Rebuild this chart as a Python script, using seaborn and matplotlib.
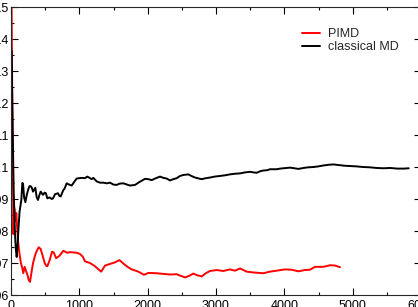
import numpy as np
import pandas as pd
import matplotlib
matplotlib.use("Agg")
import matplotlib.pyplot as plt
from matplotlib.ticker import MultipleLocator, FuncFormatter
import seaborn as sns

# running averages
pimd_x = [0, 8, 16, 24, 30, 36, 44, 54, 66, 78, 90, 102, 115, 127, 145, 161, 180, 200,
          225, 245, 259, 278, 290, 305, 322, 350, 371, 405, 434, 460, 493, 512, 532, 566,
          600, 625, 660, 707, 766, 825, 863, 961, 1010, 1050, 1083, 1156, 1229, 1280, 1320,
          1376, 1449, 1522, 1585, 1620, 1668, 1720, 1766, 1863, 1946, 2010, 2132, 2229,
          2327, 2425, 2470, 2546, 2610, 2668, 2720, 2791, 2850, 2912, 3010, 3107, 3205,
          3278, 3351, 3449, 3571, 3693, 3790, 3888, 4010, 4107, 4205, 4300, 4376, 4449,
          4571, 4669, 4742, 4815]
pimd_y = [0.170, 0.152, 0.128, 0.110, 0.092, 0.079, 0.0876, 0.0866, 0.083, 0.0856, 0.081,
          0.0772, 0.0745, 0.0725, 0.0700, 0.0688, 0.0668, 0.0688, 0.0672, 0.0660, 0.0647,
          0.0641, 0.0657, 0.0678, 0.0699, 0.0722, 0.0735, 0.0749, 0.0744, 0.0725, 0.0700,
          0.0692, 0.0690, 0.0709, 0.0735, 0.0733, 0.0715, 0.0722, 0.0738, 0.0732, 0.0734,
          0.0732, 0.0728, 0.0720, 0.0705, 0.0700, 0.0690, 0.0680, 0.0673, 0.0692, 0.0697,
          0.0702, 0.0709, 0.0703, 0.0694, 0.0686, 0.0680, 0.0673, 0.0663, 0.0669, 0.0668,
          0.0666, 0.0664, 0.0665, 0.0661, 0.0655, 0.0660, 0.0667, 0.0662, 0.0658, 0.0668,
          0.0675, 0.0678, 0.0675, 0.0680, 0.0676, 0.0683, 0.0673, 0.0670, 0.0668, 0.0673,
          0.0676, 0.0680, 0.0679, 0.0674, 0.0678, 0.0679, 0.0688, 0.0688, 0.0693, 0.0692,
          0.0687]

md_x = [0, 5, 12, 25, 40, 58, 70, 83, 95, 107, 125, 151, 166, 176, 192, 210, 230, 249, 270,
        288, 305, 322, 356, 376, 395, 415, 434, 468, 493, 510, 532, 566, 595, 615, 644, 688,
        707, 727, 766, 785, 815, 850, 888, 930, 961, 1034, 1080, 1117, 1150, 1180, 1205,
        1254, 1302, 1351, 1400, 1449, 1500, 1546, 1590, 1644, 1700, 1741, 1815, 1879, 1961,
        2010, 2059, 2120, 2181, 2230, 2278, 2327, 2375, 2425, 2473, 2522, 2595, 2640, 2693,
        2750, 2791, 2850, 2912, 2980, 3059, 3130, 3205, 3280, 3351, 3420, 3498, 3550, 3596,
        3650, 3693, 3750, 3790, 3888, 3940, 3985, 4083, 4150, 4205, 4280, 4350, 4430, 4500,
        4580, 4650, 4720, 4800, 4880, 4960, 5050, 5150, 5250, 5350, 5450, 5550, 5650, 5750,
        5820]
md_y = [0.125, 0.1365, 0.130, 0.1106, 0.092, 0.0794, 0.0745, 0.0719, 0.075, 0.080, 0.086,
        0.0897, 0.0950, 0.0948, 0.0905, 0.0890, 0.0912, 0.0928, 0.0940, 0.0940, 0.0935,
        0.0923, 0.0935, 0.0905, 0.0897, 0.0912, 0.0923, 0.0913, 0.0920, 0.0918, 0.0902,
        0.0905, 0.0900, 0.0902, 0.0915, 0.0918, 0.0910, 0.0908, 0.0928, 0.0933, 0.0949,
        0.0945, 0.0942, 0.0955, 0.0964, 0.0966, 0.0965, 0.0970, 0.0966, 0.0962, 0.0966,
        0.0955, 0.0951, 0.0951, 0.0949, 0.0951, 0.0945, 0.0944, 0.0948, 0.0949, 0.0945,
        0.0942, 0.0944, 0.0953, 0.0963, 0.0962, 0.0959, 0.0965, 0.0970, 0.0966, 0.0964,
        0.0958, 0.0962, 0.0965, 0.0972, 0.0975, 0.0977, 0.0972, 0.0967, 0.0964, 0.0962,
        0.0965, 0.0967, 0.0970, 0.0972, 0.0974, 0.0977, 0.0979, 0.0980, 0.0983, 0.0985,
        0.0983, 0.0982, 0.0987, 0.0989, 0.0990, 0.0993, 0.0993, 0.0995, 0.0996, 0.0998,
        0.0996, 0.0994, 0.0997, 0.0999, 0.1000, 0.1002, 0.1005, 0.1007, 0.1008, 0.1006,
        0.1004, 0.1003, 0.1002, 0.1000, 0.0999, 0.0997, 0.0996, 0.0997, 0.0995, 0.0995,
        0.0996]

df = pd.concat([
    pd.DataFrame({"step": pimd_x, "value": pimd_y, "run": "PIMD"}),
    pd.DataFrame({"step": md_x, "value": md_y, "run": "classical MD"}),
])

sns.set_style("ticks")
plt.rcParams["font.family"] = ["Liberation Sans", "DejaVu Sans"]

fig = plt.figure(figsize=(4.18, 3.07), dpi=100)
# axes placed so the y labels run off the left edge, like the reference crop
ax = fig.add_axes([11 / 418, 12 / 307, 410 / 418, 288 / 307])

sns.lineplot(data=df, x="step", y="value", hue="run", estimator=None, sort=False,
             palette={"PIMD": "#ff0000", "classical MD": "black"}, linewidth=1.4, ax=ax)

ax.set_xlim(0, 6000)
ax.set_ylim(0.06, 0.15)
ax.xaxis.set_major_locator(MultipleLocator(1000))
ax.xaxis.set_minor_locator(MultipleLocator(500))
ax.yaxis.set_major_locator(MultipleLocator(0.01))
ax.yaxis.set_minor_locator(MultipleLocator(0.005))
ax.yaxis.set_major_formatter(FuncFormatter(lambda v, p: "%g" % round(v, 3)))
ax.tick_params(which="both", direction="in", top=True, right=True, width=0.8,
               labelsize=9, colors="black")
ax.tick_params(which="major", length=5)
ax.tick_params(which="minor", length=2.5)
ax.tick_params(axis="x", pad=3.5)
ax.tick_params(axis="y", pad=1.5)
for s in ax.spines.values():
    s.set_linewidth(0.8)
ax.set_xlabel("")
ax.set_ylabel("")

ax.legend(loc="upper left", bbox_to_anchor=(302 / 418, 279 / 307),
          bbox_transform=fig.transFigure, frameon=False, fontsize=9,
          borderpad=0, borderaxespad=0, handlelength=1.4, handletextpad=0.7,
          labelspacing=0.1)

fig.savefig("out.png", dpi=100)
